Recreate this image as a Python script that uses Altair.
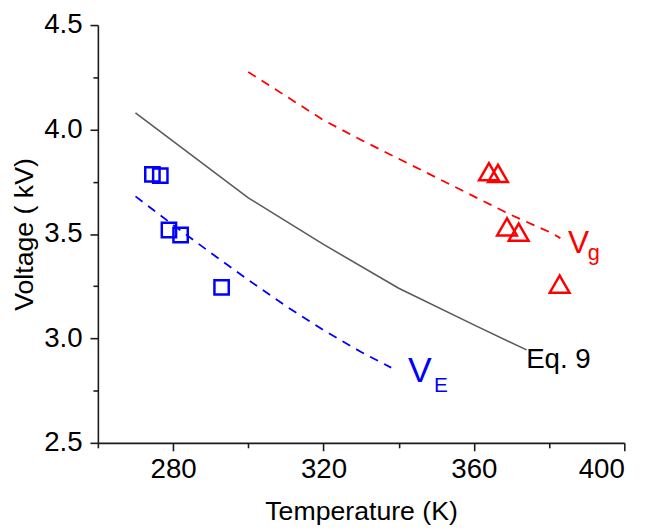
import altair as alt
import pandas as pd

FONT = "Liberation Sans"

# Eq. 9 curve (solid gray)
eq9_T = [270, 300, 320, 340, 360, 374]
eq9_V = [4.08, 3.673, 3.45, 3.24, 3.065, 2.945]
# V_E fit (blue dashed)
ve_T = [270, 280, 290, 300, 310, 320, 330, 338]
ve_V = [3.68, 3.543, 3.41, 3.28, 3.155, 3.04, 2.935, 2.86]
# V_g fit (red dashed)
vg_T = [300, 310, 320, 330, 340, 350, 360, 370, 380, 383]
vg_V = [4.275, 4.16, 4.045, 3.95, 3.86, 3.77, 3.68, 3.59, 3.51, 3.48]
# measured points
sq_T = [274.5, 276.6, 278.9, 282.0, 292.9]
sq_V = [3.785, 3.779, 3.519, 3.495, 3.244]
tri_T = [364.0, 366.4, 368.8, 371.9, 382.8]
tri_V = [3.798, 3.79, 3.534, 3.509, 3.26]

# axis ticks
x_major = [280, 320, 360, 400]
x_minor = [260, 300, 340, 380]
y_major = [2.5, 3.0, 3.5, 4.0, 4.5]
y_minor = [2.75, 3.25, 3.75, 4.25]

# annotations
ann_text = ["V", "E", "V", "g", "Eq. 9"]
ann_T = [342.5, 349.4, 385.0, 390.3, 373.9]
ann_V = [2.790, 2.743, 3.407, 3.377, 2.859]
ann_color = ["#0000ff", "#0000ff", "#ff0000", "#ff0000", "#000000"]
ann_size = [36, 21, 32, 22, 28]

xs = alt.Scale(domain=[260, 400], nice=False, zero=False)
ys = alt.Scale(domain=[2.5, 4.5], nice=False, zero=False)

df_eq9 = pd.DataFrame({"T": eq9_T, "V": eq9_V})
df_ve = pd.DataFrame({"T": ve_T, "V": ve_V})
df_vg = pd.DataFrame({"T": vg_T, "V": vg_V})
df_sq = pd.DataFrame({"T": sq_T, "V": sq_V})
df_tri = pd.DataFrame({"T": tri_T, "V": tri_V})
df_ann = pd.DataFrame({"label": ann_text, "T": ann_T, "V": ann_V,
                       "c": ann_color, "fs": ann_size})

W, H = 533, 423

major_x_axis = alt.Axis(values=x_major, format="d", title="Temperature (K)",
                        orient="bottom", tickSize=8, labelPadding=5,
                        titleX=W / 2, titleY=78, titleBaseline="alphabetic",
                        titleAlign="center")
major_y_axis = alt.Axis(values=y_major, format=".1f", title="Voltage ( kV)",
                        orient="left", tickSize=8, labelPadding=8,
                        titleX=-66, titleY=H / 2, titleAngle=270,
                        titleBaseline="alphabetic", titleAlign="center")
minor_x_axis = alt.Axis(values=x_minor, labels=False, domain=False, title=None,
                        orient="bottom", tickSize=5)
minor_y_axis = alt.Axis(values=y_minor, labels=False, domain=False, title=None,
                        orient="left", tickSize=5)

eq9 = alt.Chart(df_eq9).mark_line(color="#5a5a5a", strokeWidth=1.6).encode(
    x=alt.X("T:Q", scale=xs, axis=major_x_axis),
    y=alt.Y("V:Q", scale=ys, axis=major_y_axis),
)
minor = alt.Chart(df_eq9).mark_line(opacity=0).encode(
    x=alt.X("T:Q", scale=xs, axis=minor_x_axis),
    y=alt.Y("V:Q", scale=ys, axis=minor_y_axis),
)
ve = alt.Chart(df_ve).mark_line(color="#0000ff", strokeWidth=1.8, strokeDash=[9, 7]).encode(
    x=alt.X("T:Q", scale=xs, axis=None),
    y=alt.Y("V:Q", scale=ys, axis=None),
)
vg = alt.Chart(df_vg).mark_line(color="#ff0000", strokeWidth=1.8, strokeDash=[9, 7]).encode(
    x=alt.X("T:Q", scale=xs, axis=None),
    y=alt.Y("V:Q", scale=ys, axis=None),
)
sq = alt.Chart(df_sq).mark_point(shape="square", size=210, filled=False,
                                 color="#0000ff", strokeWidth=2.5, opacity=1).encode(
    x=alt.X("T:Q", scale=xs, axis=None),
    y=alt.Y("V:Q", scale=ys, axis=None),
)
tri = alt.Chart(df_tri).mark_point(shape="triangle-up", size=400, filled=False,
                                   color="#ff0000", strokeWidth=2.5, opacity=1).encode(
    x=alt.X("T:Q", scale=xs, axis=None),
    y=alt.Y("V:Q", scale=ys, axis=None),
)
ann = alt.Chart(df_ann).mark_text(align="left", baseline="alphabetic", font=FONT).encode(
    x=alt.X("T:Q", scale=xs, axis=None),
    y=alt.Y("V:Q", scale=ys, axis=None),
    text="label:N",
    color=alt.Color("c:N", scale=None),
    size=alt.Size("fs:Q", scale=None),
)

chart = alt.layer(eq9, minor, ve, vg, sq, tri, ann).resolve_axis(
    x="independent", y="independent"
).properties(
    width=W, height=H,
    autosize=alt.AutoSizeParams(type="none"),
    padding={"left": 91, "top": 14, "right": 26, "bottom": 90},
).configure_view(stroke=None).configure_axis(
    labelFont=FONT, titleFont=FONT, labelFontSize=28, titleFontSize=27,
    titleFontWeight="normal", labelColor="#000000", titleColor="#000000",
    domainColor="#1a1a1a", tickColor="#1a1a1a", domainWidth=1.6, tickWidth=1.6,
    grid=False,
)

chart.save("out.html", embed_options={"renderer": "svg", "actions": False})
